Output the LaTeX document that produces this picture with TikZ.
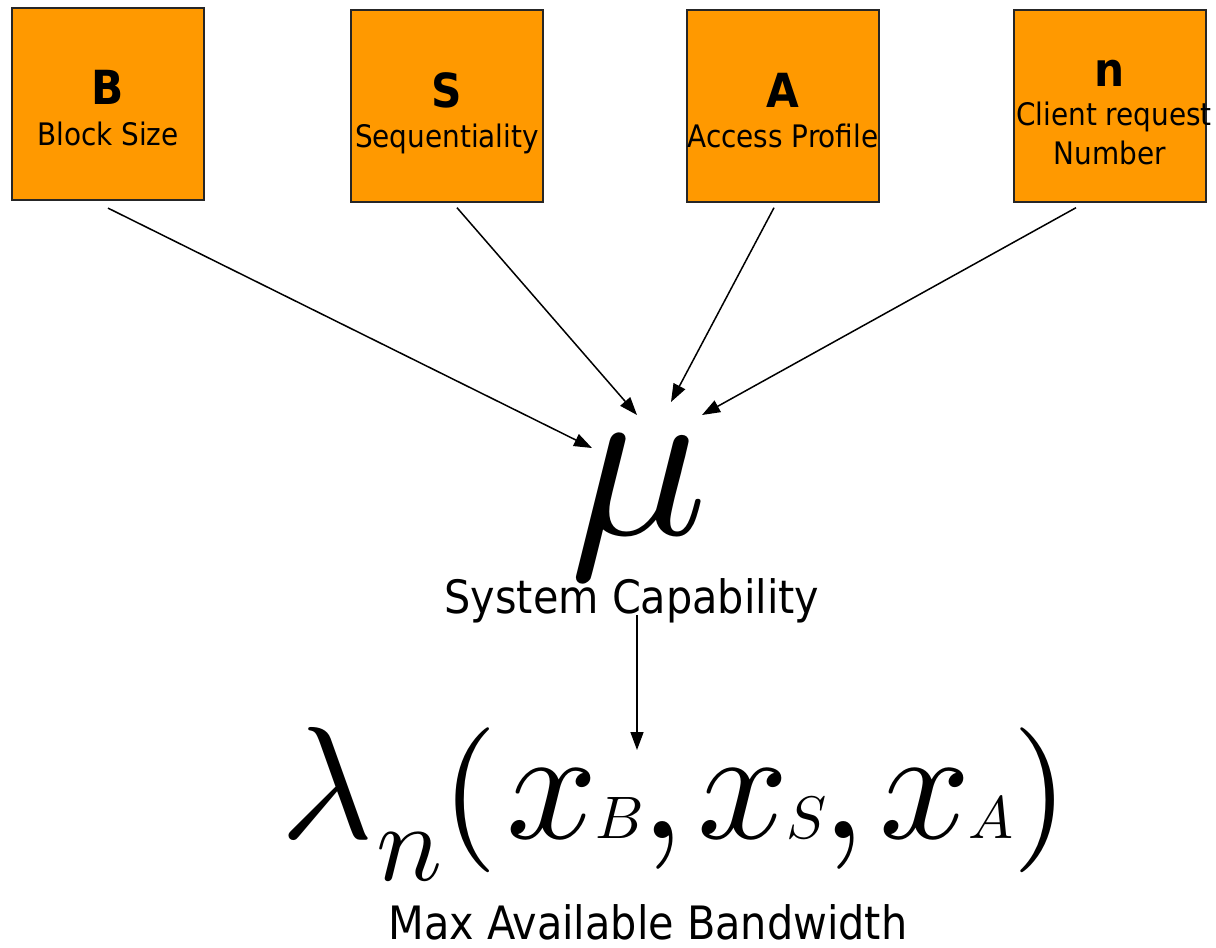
\documentclass[tikz,border=0pt]{standalone}
\usepackage{fontspec}
\setmainfont{DejaVu Sans Condensed}
\usetikzlibrary{arrows.meta,calc}
\definecolor{boxorange}{HTML}{FF9900}
\newcommand{\fsz}[1]{\fontsize{#1}{#1}\selectfont}
\tikzset{
  varbox/.style={draw=black!85, line width=1.4pt, fill=boxorange, minimum width=192pt, minimum height=192pt, inner sep=0pt},
  conn/.style={line width=1.5pt, -{Triangle[length=18pt,width=13pt]}},
  lbl/.style={inner sep=0pt, anchor=base, font=\fsz{31}},
  big/.style={inner sep=0pt, anchor=base, font=\fsz{47}\bfseries},
  captext/.style={inner sep=0pt, anchor=base, font=\fsz{46}},
  mth/.style={inner sep=0pt, anchor=base west, font=\fsz{10}, scale=#1},
}
\begin{document}
\begin{tikzpicture}[x=1pt,y=-1pt]
\useasboundingbox (0,0) rectangle (1216,948);
% boxes
\node[varbox, line width=2.2pt] (B) at (108,104) {};
\node[varbox] (S) at (447,106) {};
\node[varbox] (A) at (783,106) {};
\node[varbox] (N) at (1110,106) {};
\node[big] (Bt) at (108,104) {B};
\node[lbl] (Bl) at (108,145) {Block Size};
\node[big] (St) at (447,107) {S};
\node[lbl] (Sl) at (447,147) {Sequentiality};
\node[big] (At) at (783,107) {A};
\node[lbl] (Al) at (783,147) {Access Profile};
\node[big] (Nt) at (1110,86) {n};
\node[lbl] (Nl1) at (1114,125) {Client request};
\node[lbl] (Nl2) at (1110,164) {Number};
% mu
\node[mth=23] (mu) at (565,534) {$\mu$};
\node[captext] (sys) at (632,613) {System Capability};
% formula
\node[mth=16] (lam) at (277,838) {$\lambda$};
\node[mth=11] (sn) at (374,880) {$n$};
\node[mth=14.5] (lp) at (439,836) {$($};
\node[mth=16] (x1) at (503,838) {$x$};
\node[mth=6] (sB) at (594,838) {$B$};
\node[mth=16] (c1) at (637,838) {$,$};
\node[mth=16] (x2) at (694,838) {$x$};
\node[mth=6] (sS) at (785,838) {$S$};
\node[mth=16] (c2) at (818,838) {$,$};
\node[mth=16] (x3) at (876,838) {$x$};
\node[mth=6] (sA) at (967,838) {$A$};
\node[mth=14.5] (rp) at (1010,836) {$)$};
\node[captext] (mab) at (648,939) {Max Available Bandwidth};
% connector end points
\coordinate (eB) at (592,448);
\coordinate (eS) at (637,415);
\coordinate (eA) at (671,402);
\coordinate (eN) at (702,415);
\coordinate (eL) at (637,750);
\draw[conn] ($(B.south)+(0,7)$) -- (eB);
\draw[conn] ($(S.south)+(10,5)$) -- (eS);
\draw[conn] ($(A.south)+(-9,5)$) -- (eA);
\draw[conn] ($(N.south)+(-34,5)$) -- (eN);
\draw[conn] ($(sys.base)+(5,2)$) -- (eL);
\end{tikzpicture}
\end{document}
